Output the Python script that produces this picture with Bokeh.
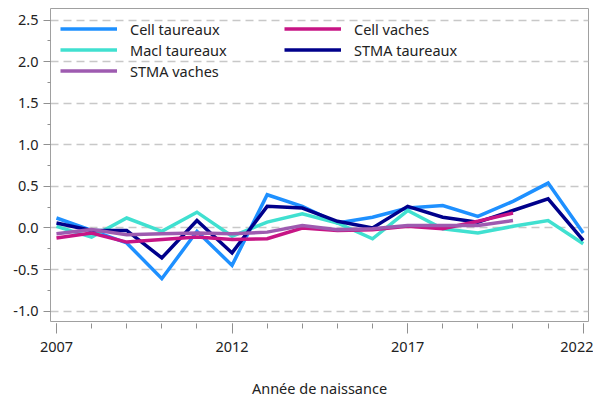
from bokeh.plotting import figure
from bokeh.models import Range1d, FixedTicker, SingleIntervalTicker, NumeralTickFormatter, Legend, LegendItem
from bokeh.embed import file_html
from bokeh.resources import INLINE

years = list(range(2007, 2023))
years_vaches = list(range(2007, 2021))

cell_taureaux = [0.12, -0.03, -0.18, -0.61, -0.04, -0.45, 0.40, 0.26, 0.06, 0.13, 0.24, 0.27, 0.14, 0.32, 0.54, -0.06]
macl_taureaux = [0.02, -0.11, 0.12, -0.04, 0.19, -0.10, 0.07, 0.17, 0.06, -0.13, 0.21, -0.01, -0.06, 0.02, 0.09, -0.19]
stma_taureaux = [0.06, -0.03, -0.03, -0.36, 0.09, -0.30, 0.26, 0.24, 0.08, 0.00, 0.26, 0.13, 0.07, 0.21, 0.35, -0.15]
cell_vaches = [-0.12, -0.06, -0.17, -0.14, -0.11, -0.14, -0.13, 0.00, -0.03, -0.02, 0.02, -0.01, 0.08, 0.18]
stma_vaches = [-0.07, -0.02, -0.08, -0.07, -0.06, -0.07, -0.05, 0.03, -0.02, -0.01, 0.03, 0.03, 0.03, 0.09]

x_major = [2007, 2012, 2017, 2022]
x_label = "Année de naissance"

FONT = "Noto Sans"
FS = "14.5px"
TXT = "#222222"

p = figure(frame_width=538, frame_height=313, output_backend="svg", toolbar_location=None,
           x_range=Range1d(2006.83, 2022.15), y_range=Range1d(-1.125, 2.64),
           min_border_left=50, min_border_right=5, min_border_top=8, min_border_bottom=70)

p.outline_line_color = "#a0a0a0"
p.outline_line_width = 1
p.background_fill_color = "white"
p.border_fill_color = "white"

series = [
    ("Cell taureaux", years, cell_taureaux, "#1E90FF"),
    ("Macl taureaux", years, macl_taureaux, "#40E0D0"),
    ("STMA vaches", years_vaches, stma_vaches, "#9E5BB0"),
    ("Cell vaches", years_vaches, cell_vaches, "#C71585"),
    ("STMA taureaux", years, stma_taureaux, "#00008B"),
]
draw_order = ["Cell taureaux", "Macl taureaux", "STMA taureaux", "Cell vaches", "STMA vaches"]
renderers = {}
for name in draw_order:
    for n, xs, ys, c in series:
        if n == name:
            renderers[n] = p.line(xs, ys, line_color=c, line_width=3.5, line_join="miter")

items = [LegendItem(label=n, renderers=[renderers[n]]) for n, _, _, _ in series]
legend = Legend(items=items, location="top_left", ncols=2, orientation="vertical")
legend.border_line_alpha = 0
legend.background_fill_alpha = 0
legend.margin = 0
legend.padding = 10
legend.spacing = 0
legend.glyph_width = 57
legend.glyph_height = 21
legend.label_height = 21
legend.label_width = 154
legend.label_standoff = 13
legend.label_text_font = FONT
legend.label_text_font_size = FS
legend.label_text_color = TXT
p.add_layout(legend, "center")

# grid
p.xgrid.grid_line_color = None
p.ygrid.grid_line_color = "#c8c8c8"
p.ygrid.grid_line_width = 1.5
p.ygrid.grid_line_dash = "8 5"

# y axis
p.yaxis.ticker = SingleIntervalTicker(interval=0.5, num_minor_ticks=2)
p.yaxis.formatter = NumeralTickFormatter(format="0.0")
p.yaxis.axis_line_color = None
p.yaxis.major_tick_line_color = "#909090"
p.yaxis.minor_tick_line_color = "#909090"
p.yaxis.major_tick_in = 0
p.yaxis.major_tick_out = 7
p.yaxis.minor_tick_in = 0
p.yaxis.minor_tick_out = 3
p.yaxis.major_label_standoff = 5
p.yaxis.major_label_text_font = FONT
p.yaxis.major_label_text_font_size = FS
p.yaxis.major_label_text_color = TXT

# x axis
p.xaxis.ticker = FixedTicker(ticks=x_major, minor_ticks=years)
p.xaxis.axis_line_color = None
p.xaxis.major_tick_line_color = "#909090"
p.xaxis.minor_tick_line_color = "#909090"
p.xaxis.major_tick_in = -2
p.xaxis.major_tick_out = 12
p.xaxis.minor_tick_in = -2
p.xaxis.minor_tick_out = 7
p.xaxis.major_label_standoff = 8
p.xaxis.major_label_text_font = FONT
p.xaxis.major_label_text_font_size = FS
p.xaxis.major_label_text_color = TXT
p.xaxis.axis_label = x_label
p.xaxis.axis_label_text_font = FONT
p.xaxis.axis_label_text_font_size = FS
p.xaxis.axis_label_text_font_style = "normal"
p.xaxis.axis_label_text_color = TXT
p.xaxis.axis_label_standoff = 23

open("out.html", "w").write(file_html(p, INLINE))
